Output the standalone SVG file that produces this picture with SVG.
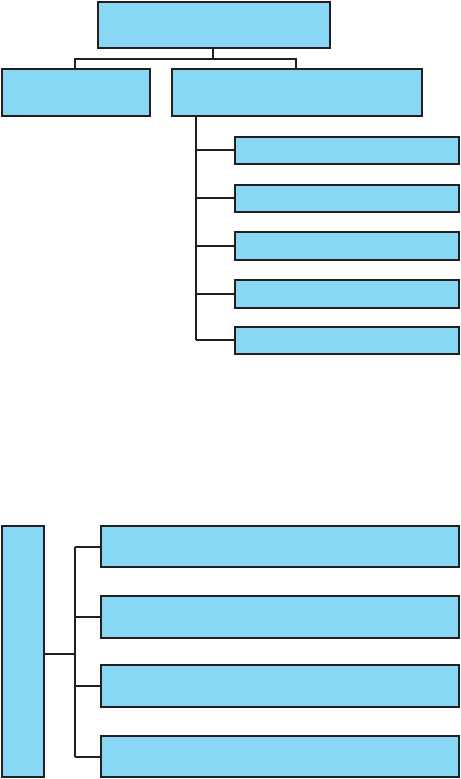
<svg xmlns="http://www.w3.org/2000/svg" width="461" height="779" viewBox="0 0 461 779">
<style>
.box{fill:#87d7f5;stroke:#231f20;stroke-width:2}
.ln{fill:none;stroke:#231f20;stroke-width:2}
</style>
<rect width="461" height="779" fill="#fff"/>
<g id="connectors">
<path class="ln" d="M213 48V59M75 68V59H296V68"/>
<path class="ln" d="M196 117V340M196 150H234M196 198H234M196 246H234M196 294H234M196 340H234"/>
<path class="ln" d="M45 654H75M75 547V757M75 547H100M75 617H100M75 686H100M75 757H100"/>
</g>
<g id="n0"><rect class="box" x="98" y="2" width="232" height="46"/></g>
<g id="n1"><rect class="box" x="2" y="69" width="148" height="47"/></g>
<g id="n2"><rect class="box" x="172" y="69" width="250" height="47"/></g>
<g id="n3"><rect class="box" x="235" y="137" width="224" height="27"/></g>
<g id="n4"><rect class="box" x="235" y="185" width="224" height="27"/></g>
<g id="n5"><rect class="box" x="235" y="232" width="224" height="28"/></g>
<g id="n6"><rect class="box" x="235" y="280" width="224" height="28"/></g>
<g id="n7"><rect class="box" x="235" y="327" width="224" height="27"/></g>
<g id="n8"><rect class="box" x="2" y="526" width="42" height="251"/></g>
<g id="n9"><rect class="box" x="101" y="526" width="358" height="41"/></g>
<g id="n10"><rect class="box" x="101" y="596" width="358" height="42"/></g>
<g id="n11"><rect class="box" x="101" y="665" width="358" height="42"/></g>
<g id="n12"><rect class="box" x="101" y="736" width="358" height="41"/></g>
</svg>
